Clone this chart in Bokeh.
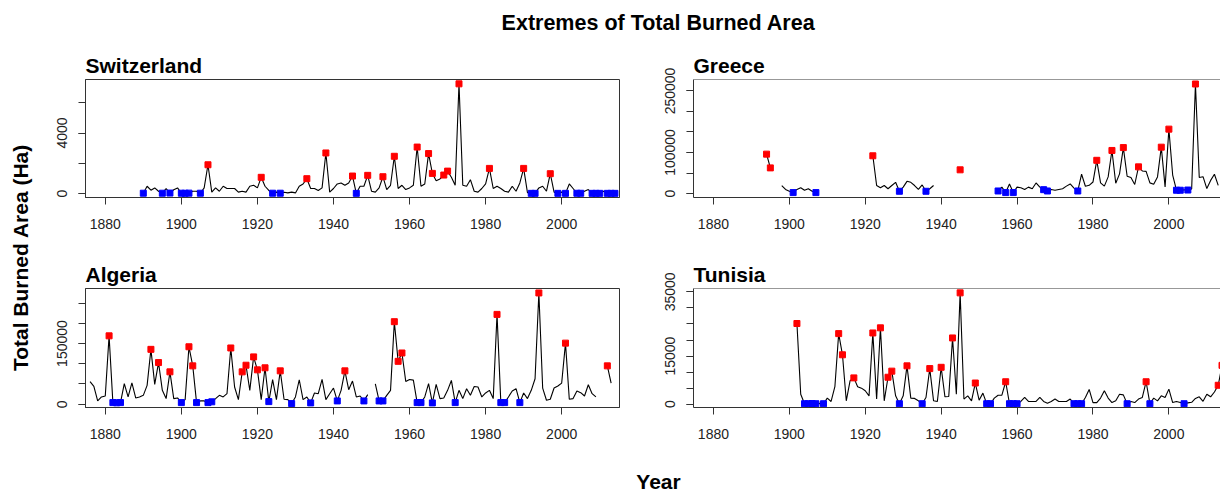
import math
from bokeh.plotting import figure
from bokeh.layouts import row, column
from bokeh.models import FixedTicker, Span, Range1d, NumeralTickFormatter
from bokeh.core.properties import value
from bokeh.embed import file_html
from bokeh.resources import INLINE

nan = float("nan")
FONT = "Liberation Sans"

# ---------------- data ----------------
main_title = "Extremes of Total Burned Area"
y_title = "Total Burned Area (Ha)"
x_title = "Year"
x_ticks = [1880, 1900, 1920, 1940, 1960, 1980, 2000]

sw_name = "Switzerland"
sw_start = 1890
sw_values = [
    20, 480, 220, 370, 150, 20, 330, 30, 250, 370,          # 1890-1899
    20, 15, 25, 150, 150, 20, 370, 1900, 90, 370,           # 1900-1909
    150, 480, 330, 330, 330, 90, 150, 90, 480, 545,         # 1910-1919
    370, 1070, 480, 200, 20, 90, 20, 80, 40, 90,            # 1920-1929
    40, 480, 630, 980, 330, 330, 200, 370, 2680, 90,        # 1930-1939
    330, 630, 700, 545, 700, 1155, 10, 480, 480, 1200,      # 1940-1949
    150, 90, 370, 1110, 260, 545, 2460, 330, 545, 260,      # 1950-1959
    370, 545, 3070, 480, 630, 2640, 1330, 850, 960, 1220,   # 1960-1969
    1480, 1070, 545, 7250, 545, 480, 915, 150, 90, 330,     # 1970-1979
    630, 1660, 330, 480, 330, 150, 90, 480, 150, 700,       # 1980-1989
    1660, 60, 10, 10, 370, 480, 150, 1310, 90, 10,          # 1990-1999
    90, 10, 630, 330, 15, 15, 150, 260, 10, 10,             # 2000-2009
    10, 150, 10, 10, 10,                                    # 2010-2014
]
sw_red = [1907, 1921, 1933, 1938, 1945, 1949, 1953, 1956, 1962, 1965, 1966,
          1969, 1970, 1973, 1981, 1990, 1997]
sw_blue = [1890, 1895, 1897, 1900, 1901, 1902, 1905, 1924, 1926, 1946, 1992,
           1993, 1999, 2001, 2004, 2005, 2008, 2009, 2010, 2012, 2013, 2014]
sw_yticks = [0, 2000, 4000, 6000]
sw_ylabels = [0, 4000]

gr_name = "Greece"
gr_start = 1894
gr_values = [
    96000, 62500, nan, nan, 19500, 10000,                                   # 1894-1899
    5500, 2300, 10000, 14000, 7800, 11700, 5500, 2300, nan, nan,            # 1900-1909
    nan, nan, nan, nan, nan, nan, nan, nan, nan, nan,                       # 1910-1919
    nan, nan, 92000, 19500, 14000, 19500, 11700, 19500, 27300, 5500,        # 1920-1929
    15600, 29700, 27300, 19500, 10000, 21000, 5500, 11700, 19500, nan,      # 1930-1939
    nan, nan, nan, nan, nan, 57800, nan, nan, nan, nan,                     # 1940-1949
    nan, nan, nan, nan, nan, 6200, 15600, 2300, 23400, 2300,                # 1950-1959
    15600, 14000, 10000, 15600, 11700, 25800, 15600, 9400, 6200, 10000,     # 1960-1969
    7800, 10000, 11700, 18000, 23400, 13300, 6200, 47000, 17800, 20000,     # 1970-1979
    28000, 81000, 26000, 18000, 40500, 105000, 25000, 48000, 112000, 42000, # 1980-1989
    39000, 22000, 65000, 55000, 54000, 26000, 22700, 40500, 113000, 16200,  # 1990-1999
    157000, 45000, 8000, 8000, 9000, 8500, 11000, 267000, 39000, 41000,     # 2000-2009
    12000, 32000, 47000, 20000,                                             # 2010-2013
]
gr_red = [1894, 1895, 1922, 1945, 1981, 1985, 1988, 1992, 1998, 2000, 2007]
gr_blue = [1901, 1907, 1929, 1936, 1955, 1957, 1959, 1967, 1968, 1976, 2002,
           2003, 2005]
gr_yticks = [0, 50000, 100000, 150000, 200000, 250000]
gr_ylabels = [0, 100000, 250000]

al_name = "Algeria"
al_start = 1876
al_values = [
    56000, 44000, 8200, 18000,                                              # 1876-1879
    20400, 169000, 4000, 3500, 4000, 50700, 18000, 53000, 15500, 18000,     # 1880-1889
    22000, 46600, 135600, 49000, 103000, 34300, 13900, 80000, 13900, 15500, # 1890-1899
    4000, 11400, 142000, 94800, 4000, 8200, 8200, 4000, 6000, 13900,        # 1900-1909
    22000, 18000, 26000, 139000, 42500, 11400, 80000, 96400, 34300, 117000, # 1910-1919
    85000, 11400, 90000, 6500, 61000, 11400, 82500, 12300, 11400, 1600,     # 1920-1929
    18000, 60500, 11400, 18000, 3300, 27800, 26000, 61300, 11400, 26000,    # 1930-1939
    40000, 8200, 34300, 82500, 36000, 57200, 18000, 20400, 8200, 23700,     # 1940-1949
    nan, 50000, 8200, 8200, 22000, 34300, 204000, 106000, 126600, 56400,    # 1950-1959
    61300, 59600, 4000, 4000, 18000, 50700, 3300, 49000, 13900, 15500,      # 1960-1969
    34300, 58800, 4000, 34300, 13900, 38400, 22000, 44000, 42500, 18000,    # 1970-1979
    27800, 34300, 13900, 222000, 4000, 4000, 18000, 32700, 38400, 4000,     # 1980-1989
    27800, 13900, 34300, 63000, 275000, 40000, 9800, 12300, 40000, 45000,   # 1990-1999
    52300, 151000, 12300, 13900, 32700, 28600, 20400, 48200, 26000, 18000,  # 2000-2009
    nan, nan, 94800, 52300,                                                 # 2010-2013
]
al_red = [1881, 1892, 1894, 1897, 1902, 1903, 1913, 1916, 1917, 1919, 1920,
          1922, 1926, 1943, 1956, 1957, 1958, 1983, 1994, 2001, 2012]
al_blue = [1882, 1883, 1884, 1900, 1904, 1907, 1908, 1923, 1929, 1934, 1941,
           1948, 1952, 1953, 1962, 1963, 1966, 1972, 1984, 1985, 1989]
al_yticks = [0, 50000, 100000, 150000, 200000, 250000]
al_ylabels = [0, 150000]

tu_name = "Tunisia"
tu_start = 1902
tu_values = [
    25150, 3100, 150, 150, 200, 150, 250, 150,                              # 1902-1909
    1900, 850, 5450, 22000, 15400, 1050, 7300, 8200, 5450, 5000,            # 1910-1919
    4200, 2600, 22200, 1600, 23800, 1050, 8400, 10300, 2600, 150,           # 1920-1929
    2600, 11950, 1900, 1800, 1050, 150, 2100, 11100, 1050, 850,             # 1930-1939
    11500, 2300, 2400, 20650, 3100, 34700, 1600, 2600, 1050, 6600,          # 1940-1949
    1250, 3450, 150, 150, 1900, 2800, 2800, 7000, 150, 150,                 # 1950-1959
    150, 850, 2100, 850, 850, 850, 2100, 850, 300, 850,                     # 1960-1969
    1600, 850, 850, 850, 1600, 150, 150, 150, 2100, 4600,                   # 1970-1979
    500, 500, 1900, 4200, 1900, 500, 1050, 3100, 2900, 150,                 # 1980-1989
    850, 500, 1600, 2100, 7000, 150, 1900, 1050, 2600, 2100,                # 1990-1999
    4700, 500, 850, 500, 150, 400, 600, 1800, 2300, 900,                    # 2000-2009
    3100, 2300, 3800, 5900, 12100,                                          # 2010-2014
]
tu_red = [1902, 1913, 1914, 1917, 1922, 1924, 1926, 1927, 1931, 1937, 1940,
          1943, 1945, 1949, 1957, 1994, 2013, 2014]
tu_blue = [1904, 1905, 1906, 1907, 1909, 1929, 1935, 1952, 1953, 1958, 1959,
           1960, 1975, 1976, 1977, 1989, 1995, 2004]
tu_yticks = [0, 5000, 10000, 15000, 20000, 25000, 30000, 35000]
tu_ylabels = [0, 15000, 35000]

# axis limits (R-style 4% padding)
sw_ylim = (-264, 7537)
gr_ylim = (-9700, 278000)
al_ylim = (-8090, 286000)
tu_ylim = (-1030, 36060)
left_xlim = (1874.8, 2015.2)
right_xlim = (1874.75, 2013.6)


def panel(name, start, vals, reds, blues, ylim, yticks, ylabels, xlim,
          width, height, bl, br, bt, bb, right_side):
    years = list(range(start, start + len(vals)))
    lookup = dict(zip(years, vals))
    p = figure(width=width, height=height, x_range=Range1d(*xlim),
               y_range=Range1d(*ylim), output_backend="svg",
               toolbar_location=None, min_border_left=bl,
               min_border_right=br, min_border_top=bt, min_border_bottom=bb,
               title=name)
    p.title.text_font = FONT
    p.title.text_font_size = "21px"
    p.title.text_font_style = "bold"
    p.title.text_color = "black"
    p.title.align = "left"
    p.title.offset = 0
    p.title.standoff = 5

    p.line(years, vals, line_color="black", line_width=1.1)
    p.scatter(reds, [lookup[y] for y in reds], marker="square", size=6,
              fill_color="#FF0000", line_color="#FF0000")
    p.scatter(blues, [lookup[y] for y in blues], marker="square", size=6,
              fill_color="#0000FF", line_color="#0000FF")

    p.xgrid.visible = False
    p.ygrid.visible = False
    p.background_fill_color = "white"
    p.border_fill_color = "white"

    for ax in (p.xaxis[0], p.yaxis[0]):
        ax.axis_line_color = "#333333"
        ax.axis_line_width = 1
        ax.major_tick_line_color = "#333333"
        ax.minor_tick_line_color = "#333333"
        ax.major_tick_out = 7
        ax.major_tick_in = 0
        ax.minor_tick_out = 7
        ax.minor_tick_in = 0
        ax.major_label_text_font = FONT
        ax.major_label_text_font_size = "14px"
        ax.major_label_text_color = "#222222"
        ax.formatter = NumeralTickFormatter(format="0")

    p.xaxis[0].major_label_standoff = 14
    p.yaxis[0].major_label_standoff = 11
    p.xaxis[0].ticker = FixedTicker(ticks=x_ticks, minor_ticks=[])
    p.yaxis[0].ticker = FixedTicker(ticks=ylabels, minor_ticks=yticks)
    p.yaxis[0].major_label_orientation = "parallel"

    if right_side:
        p.outline_line_color = None
        p.add_layout(Span(location=ylim[1], dimension="width",
                          line_color="#333333", line_width=1))
    else:
        p.outline_line_color = "#333333"
        p.outline_line_width = 1
    return p


def blank(width, height, xr, yr):
    p = figure(width=width, height=height, x_range=Range1d(*xr),
               y_range=Range1d(*yr), output_backend="svg",
               toolbar_location=None, x_axis_type=None, y_axis_type=None,
               min_border=0, min_border_left=0, min_border_right=0,
               min_border_top=0, min_border_bottom=0)
    p.outline_line_color = None
    p.grid.visible = False
    return p


YW, LW, RW = 40, 615, 565
HH, TH, BH, FH = 48, 202, 210, 33
TOTAL_W = YW + LW + RW

p_sw = panel(sw_name, sw_start, sw_values, sw_red, sw_blue, sw_ylim, sw_yticks,
             sw_ylabels, left_xlim, LW, TH, 45, 36, 31, 53, False)
p_gr = panel(gr_name, gr_start, gr_values, gr_red, gr_blue, gr_ylim, gr_yticks,
             gr_ylabels, right_xlim, RW, TH, 38, 0, 31, 53, True)
p_al = panel(al_name, al_start, al_values, al_red, al_blue, al_ylim, al_yticks,
             al_ylabels, left_xlim, LW, BH, 45, 36, 38, 53, False)
p_tu = panel(tu_name, tu_start, tu_values, tu_red, tu_blue, tu_ylim, tu_yticks,
             tu_ylabels, right_xlim, RW, BH, 38, 0, 38, 53, True)

header = blank(TOTAL_W, HH, (0, TOTAL_W), (HH, 0))
header.text(x=[658], y=[22], text=[main_title], text_font=value(FONT),
            text_font_size="21.5px", text_font_style="bold",
            text_align="center", text_baseline="middle", text_color="black")

ylab = blank(YW, TH + BH, (0, YW), (HH + TH + BH, HH))
ylab.text(x=[20], y=[257], text=[y_title], text_font=value(FONT),
          text_font_size="21px", text_font_style="bold", angle=math.pi / 2,
          text_align="center", text_baseline="middle", text_color="black")

fy0 = HH + TH + BH
footer = blank(TOTAL_W, FH, (0, TOTAL_W), (fy0 + FH, fy0))
footer.text(x=[658], y=[481], text=[x_title], text_font=value(FONT),
            text_font_size="21px", text_font_style="bold",
            text_align="center", text_baseline="middle", text_color="black")

layout = column(header,
                row(ylab, column(p_sw, p_al), column(p_gr, p_tu)),
                footer)

open("out.html", "w").write(file_html(layout, INLINE))
